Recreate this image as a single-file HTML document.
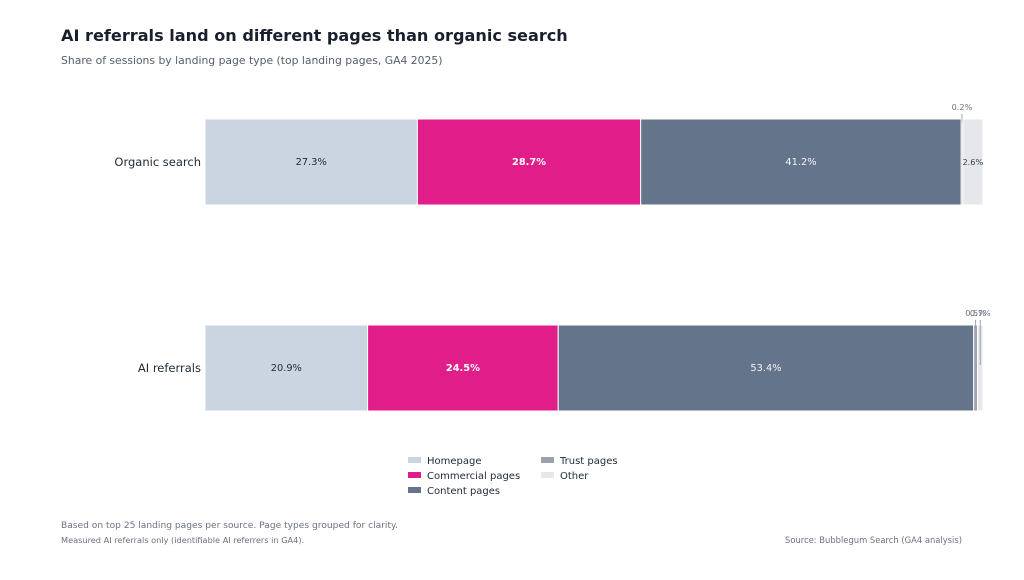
<!DOCTYPE html>
<html><head><meta charset="utf-8"><style>
body{margin:0;background:#fff;font-family:"DejaVu Sans","Liberation Sans",sans-serif;}
svg text{font-family:"DejaVu Sans","Liberation Sans",sans-serif;}
</style></head><body>
<svg id="chart" width="1024" height="576" xmlns="http://www.w3.org/2000/svg">
<rect width="1024" height="576" fill="#fff"/>
<text x="61" y="41" font-size="16.1" font-weight="bold" fill="#1a1f2e">AI referrals land on different pages than organic search</text>
<text x="61" y="64" font-size="10.8" fill="#555e6b">Share of sessions by landing page type (top landing pages, GA4 2025)</text>
<g id="bars"></g>
<g id="legend"></g>
<text x="61" y="528" font-size="9.1" fill="#6b7280">Based on top 25 landing pages per source. Page types grouped for clarity.</text>
<text x="61" y="543" font-size="8.2" fill="#6b7280">Measured AI referrals only (identifiable AI referrers in GA4).</text>
<text x="962" y="543" font-size="8.4" fill="#6b7280" text-anchor="end">Source: Bubblegum Search (GA4 analysis)</text>
</svg>
<script>
const categories = ["Organic search", "AI referrals"];
const seriesNames = ["Homepage", "Commercial pages", "Content pages", "Trust pages", "Other"];
const homepage = [27.3, 20.9];
const commercial = [28.7, 24.5];
const content = [41.2, 53.4];
const trust = [0.2, 0.5];
const other = [2.6, 0.7];
const colors = ["#cbd5e1", "#e11d8a", "#64748b", "#9ca3af", "#e5e7eb"];
const textColors = ["#1f2937", "#ffffff", "#f1f5f9", "#4b5563", "#4b5563"];
const series = [homepage, commercial, content, trust, other];
const NS = "http://www.w3.org/2000/svg";
const x0 = 205, x1 = 983;
const xs = v => x0 + (x1 - x0) * v / 100;
const yTop = i => 119 + i * 206;
const barH = 86;
const g = document.getElementById('bars');
function mk(tag, attrs){const e=document.createElementNS(NS,tag);for(const k in attrs)e.setAttribute(k,attrs[k]);return e;}
categories.forEach((cat, i) => {
  const y = yTop(i);
  const lab = mk('text',{x:201,y:y+barH/2+4,'font-size':11.5,fill:'#1f2937','text-anchor':'end'});
  lab.textContent = cat;
  
  
  g.appendChild(lab);
  let cum = 0, smallIdx = 0;
  series.forEach((s, j) => {
    const v = s[i];
    const a = xs(cum), b = xs(cum + v);
    const r = mk('rect',{x:a,y:y,width:Math.max(b-a,0.5),height:barH,fill:colors[j],stroke:'#fff','stroke-width':1});
    
    
    g.appendChild(r);
    const t = mk('text',{'font-size':9.8,'text-anchor':'middle'});
    t.textContent = v.toFixed(1) + '%';
    
    
    if (v >= 5) {
      t.setAttribute('x', (a+b)/2); t.setAttribute('y', y+barH/2+3);
      t.setAttribute('fill', textColors[j]);
      if (j === 1) t.setAttribute('font-weight', 'bold');
    } else if (v >= 2) {
      t.setAttribute('x', (a+b)/2); t.setAttribute('y', y+barH/2+3);
      t.setAttribute('fill', '#374151'); t.setAttribute('font-size', 8.2);
    } else {
      const cx = (a+b)/2;
      const ln = mk('line',{x1:cx,x2:cx,y1:y-5,y2:y+(smallIdx?40:4),stroke:'#9ca3af','stroke-width':1});
      
      
      g.appendChild(ln);
      t.setAttribute('x', cx); t.setAttribute('y', y-9);
      t.setAttribute('fill', '#6b7280'); t.setAttribute('font-size', 8.2);
      smallIdx++;
    }
    g.appendChild(t);
    cum += v;
  });
});
const lg = document.getElementById('legend');
seriesNames.forEach((n, j) => {
  const col = j < 3 ? 0 : 1, row = j < 3 ? j : j - 3;
  const x = 408 + col * 133, y = 457 + row * 15;
  const r = mk('rect',{x:x,y:y,width:13,height:6,fill:colors[j]});
  
  
  lg.appendChild(r);
  const t = mk('text',{x:x+19,y:y+7,'font-size':10,fill:'#1f2937'});
  t.textContent = n;
  
  
  lg.appendChild(t);
});
</script>
</body></html>
